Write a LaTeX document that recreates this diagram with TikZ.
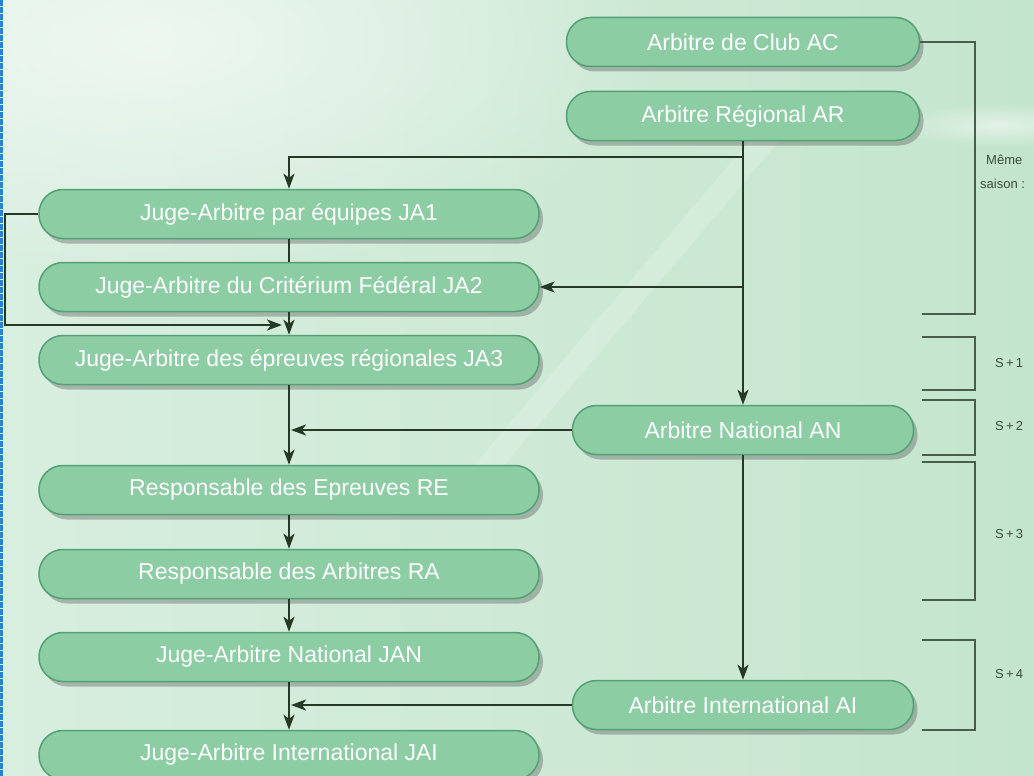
\documentclass[tikz,border=0pt]{standalone}
\usepackage{fontspec}
\setmainfont{Liberation Sans}
\usetikzlibrary{shadows,arrows.meta,calc,fadings}
\tikzfading[name=softglow, inner color=transparent!0, outer color=transparent!100]
\definecolor{bgA}{HTML}{D8EEDF}
\definecolor{bgB}{HTML}{C4E5CD}
\definecolor{pillfill}{HTML}{8CCDA4}
\definecolor{pillline}{HTML}{52A073}
\definecolor{conn}{HTML}{263826}
\definecolor{brk}{HTML}{4A5C4C}
\tikzset{
  pill/.style={draw=pillline, line width=1.5pt, fill=pillfill, rounded corners=24pt,
    minimum height=49pt, text=white, font=\fontsize{23}{25}\selectfont,
    inner sep=0pt,
    drop shadow={shadow xshift=4pt, shadow yshift=-5pt, opacity=0.35, fill=black!70}},
  wide/.style={pill, minimum width=500pt},
  narrowA/.style={pill, minimum width=353pt},
  narrowB/.style={pill, minimum width=341pt},
  link/.style={draw=conn, line width=1.8pt},
  arr/.style={link, -{Stealth[length=15pt,width=11pt,inset=4pt]}},
  bracket/.style={draw=brk, line width=2.2pt},
  lbl/.style={text=brk!80!black, font=\fontsize{13}{15}\selectfont, anchor=west, inner sep=0pt}
}
\begin{document}
\begin{tikzpicture}[x=1pt,y=-1pt]
\useasboundingbox (0,0) rectangle (1034,776);
\clip (0,0) rectangle (1034,776);
% background
\shade[left color=bgA, right color=bgB] (0,0) rectangle (1034,776);
\fill[white, opacity=0.6, path fading=softglow] (150,40) ellipse [x radius=520, y radius=240];
\fill[white, opacity=0.5, path fading=softglow] (1000,125) ellipse [x radius=110, y radius=22];
\fill[white, opacity=0.18] (470,470) -- (500,470) -- (780,140) -- (750,140) -- cycle;
\draw[color={rgb,255:red,40;green,130;blue,220}, line width=2.5pt, dash pattern=on 6pt off 1pt] (1.5,0) -- (1.5,776);

% nodes
\node[narrowA] (AC)  at (743,42)  {Arbitre de Club AC};
\node[narrowA] (AR)  at (743,116) {Arbitre Régional AR};
\node[wide]    (JA1) at (289,214) {Juge-Arbitre par équipes JA1};
\node[wide]    (JA2) at (289,287) {Juge-Arbitre du Critérium Fédéral JA2};
\node[wide]    (JA3) at (289,360) {Juge-Arbitre des épreuves régionales JA3};
\node[narrowB] (AN)  at (743,430) {Arbitre National AN};
\node[wide]    (RE)  at (289,490) {Responsable des Epreuves RE};
\node[wide]    (RA)  at (289,574) {Responsable des Arbitres RA};
\node[wide]    (JAN) at (289,657) {Juge-Arbitre National JAN};
\node[narrowB] (AI)  at (743,705) {Arbitre International AI};
\node[wide]    (JAI) at (289,755) {Juge-Arbitre International JAI};

% helper coordinates
\coordinate (j1) at (743,157);
\coordinate (j2) at (AR.south |- JA2.east);
\coordinate (loopL) at (5,214);
\coordinate (m1) at (282,325);
\coordinate (m2) at (JA3.south |- AN.west);
\coordinate (m3) at (JAN.south |- AI.west);

% connectors
\draw[link] (AR.south) -- (j1);
\draw[arr] (j1) -| (JA1.north);
\draw[arr] (AR.south) -- (AN.north);
\draw[arr] (j2) -- (JA2.east);
\draw[link] (JA1.south) -- (JA2.north);
\draw[arr] (JA2.south) -- (JA3.north);
\draw[arr] (JA1.west) -- (loopL) |- (m1);
\draw[arr] (JA3.south) -- (RE.north);
\draw[arr] (AN.west) -- ([xshift=2pt]m2);
\draw[arr] (RE.south) -- (RA.north);
\draw[arr] (RA.south) -- (JAN.north);
\draw[arr] (JAN.south) -- (JAI.north);
\draw[arr] (AI.west) -- ([xshift=2pt]m3);
\draw[arr] (AN.south) -- (AI.north);

% brackets
\draw[bracket] (AC.east) -- (975,42) -- (975,314) -- (922,314);
\draw[bracket] (922,337) -- (975,337) -- (975,390) -- (922,390);
\draw[bracket] (922,400) -- (975,400) -- (975,455) -- (922,455);
\draw[bracket] (922,462) -- (975,462) -- (975,600) -- (922,600);
\draw[bracket] (922,640) -- (975,640) -- (975,730) -- (922,730);

% bracket labels
\node[lbl] (l0a) at (986,160) {Même};
\node[lbl] (l0b) at (980,184) {saison :};
\node[lbl] (l1) at (995,363) {S\,+\,1};
\node[lbl] (l2) at (995,426) {S\,+\,2};
\node[lbl] (l3) at (995,534) {S\,+\,3};
\node[lbl] (l4) at (995,674) {S\,+\,4};
\end{tikzpicture}
\end{document}
